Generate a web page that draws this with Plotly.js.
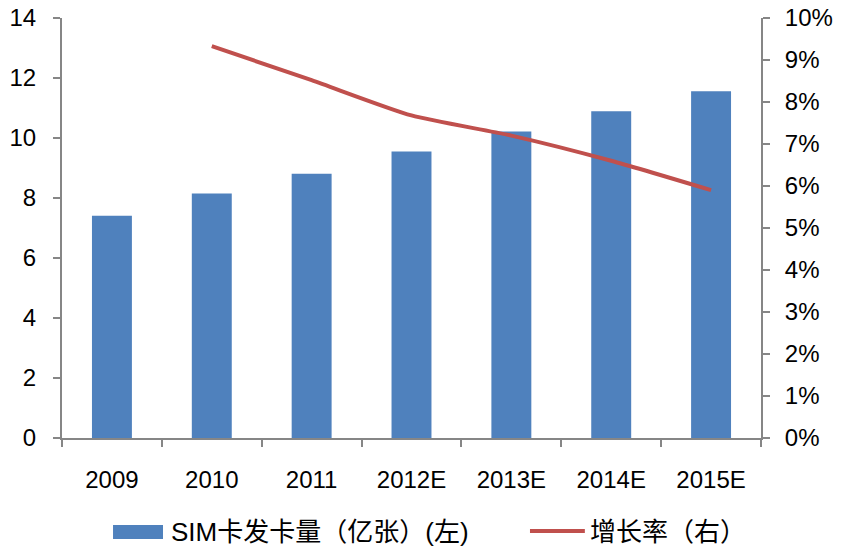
<!DOCTYPE html>
<html>
<head>
<meta charset="utf-8">
<script src="https://cdn.plot.ly/plotly-3.0.1.min.js"></script>
<style>html,body{margin:0;padding:0;background:#fff;}#chart{width:851px;height:549px;}</style>
</head>
<body>
<div id="chart"></div>
<script>
const categories = ["2009", "2010", "2011", "2012E", "2013E", "2014E", "2015E"];
const simCards = [7.41, 8.15, 8.81, 9.55, 10.22, 10.89, 11.56];
const growthRate = [null, 0.0933, 0.0852, 0.0768, 0.072, 0.066, 0.059];
const seriesNames = ["SIM卡发卡量（亿张）(左)", "增长率（右）"];
const leftTicks = [0, 2, 4, 6, 8, 10, 12, 14];
const rightTicks = [0, 0.01, 0.02, 0.03, 0.04, 0.05, 0.06, 0.07, 0.08, 0.09, 0.10];

const barColor = "#4F81BD";
const lineColor = "#C0504D";
const axisColor = "#868686";
const fontFam = "Liberation Sans, Arial, Noto Sans CJK SC, sans-serif";

const traces = [
  {
    type: "bar",
    x: categories,
    y: simCards,
    name: seriesNames[0],
    marker: {color: barColor, line: {width: 0}},
    yaxis: "y"
  },
  {
    type: "scatter",
    mode: "lines",
    x: categories,
    y: growthRate,
    name: seriesNames[1],
    line: {color: lineColor, width: 4, shape: "spline", smoothing: 0.6},
    yaxis: "y2",
    connectgaps: false
  }
];

// custom legend (positions in paper coords of the plot area)
const shapes = [
  {type: "rect", xref: "paper", yref: "paper", x0: 0.073, x1: 0.1445, y0: -0.2405, y1: -0.207,
   fillcolor: barColor, line: {width: 0}},
  {type: "line", xref: "paper", yref: "paper", x0: 0.6695, x1: 0.748, y0: -0.2214, y1: -0.2214,
   line: {color: lineColor, width: 4}}
];
const annotations = [
  {xref: "paper", yref: "paper", x: 0.153, y: -0.2238, xanchor: "left", yanchor: "middle",
   text: seriesNames[0], showarrow: false, font: {family: fontFam, size: 26, color: "#000"}},
  {xref: "paper", yref: "paper", x: 0.752, y: -0.2238, xanchor: "left", yanchor: "middle",
   text: seriesNames[1], showarrow: false, font: {family: fontFam, size: 26, color: "#000"}}
];

const layout = {
  width: 851,
  height: 549,
  margin: {l: 62, r: 90, t: 18, b: 111},
  paper_bgcolor: "#fff",
  plot_bgcolor: "#fff",
  font: {family: fontFam, size: 22, color: "#000"},
  bargap: 0.6,
  showlegend: false,
  shapes: shapes,
  annotations: annotations,
  xaxis: {
    type: "category",
    tickson: "boundaries",
    ticks: "outside",
    ticklen: 7,
    tickwidth: 2,
    tickcolor: axisColor,
    showline: true,
    linecolor: axisColor,
    linewidth: 2,
    showgrid: false,
    zeroline: false,
    automargin: false,
    tickfont: {family: fontFam, size: 24, color: "#000"},
    ticklabelstandoff: 19
  },
  yaxis: {
    range: [0, 14],
    tickvals: leftTicks,
    ticks: "outside",
    ticklen: 7,
    tickwidth: 2,
    tickcolor: axisColor,
    showline: true,
    linecolor: axisColor,
    linewidth: 2,
    showgrid: false,
    zeroline: false,
    automargin: false,
    tickfont: {family: fontFam, size: 24, color: "#000"},
    ticklabelstandoff: 12
  },
  yaxis2: {
    range: [0, 0.10],
    tickvals: rightTicks,
    tickformat: ".0%",
    overlaying: "y",
    side: "right",
    ticks: "outside",
    ticklen: 7,
    tickwidth: 2,
    tickcolor: axisColor,
    showline: true,
    linecolor: axisColor,
    linewidth: 2,
    showgrid: false,
    zeroline: false,
    automargin: false,
    tickfont: {family: fontFam, size: 24, color: "#000"},
    ticklabelstandoff: 10
  }
};

Plotly.newPlot("chart", traces, layout, {displayModeBar: false, staticPlot: true});
</script>
</body>
</html>
